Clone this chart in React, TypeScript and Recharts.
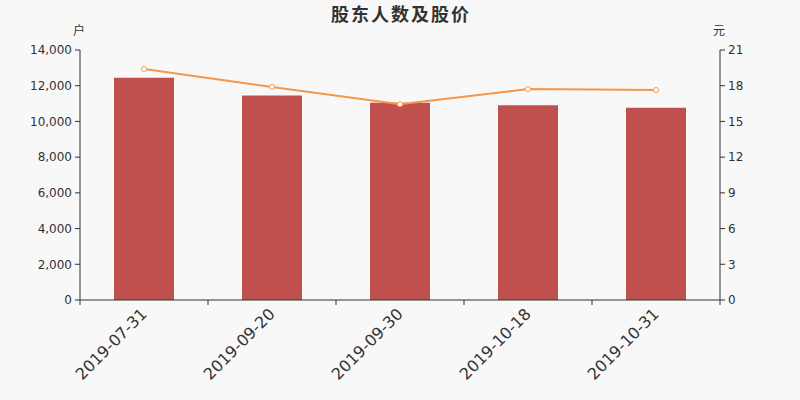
import React from 'react';
import { ComposedChart, Bar, Line, XAxis, YAxis } from 'recharts';

const dates = ['2019-07-31', '2019-09-20', '2019-09-30', '2019-10-18', '2019-10-31'];
const holders = [12450, 11450, 11050, 10900, 10770];
const prices = [19.4, 17.9, 16.44, 17.72, 17.64];
const holderTicks = [0, 2000, 4000, 6000, 8000, 10000, 12000, 14000];
const priceTicks = [0, 3, 6, 9, 12, 15, 18, 21];

const chartData = dates.map((d, i) => ({ date: d, holders: holders[i], price: prices[i] }));

const axisColor = '#333';
const font = '"DejaVu Sans", sans-serif';
const cjk = '"Noto Sans CJK SC", sans-serif';

const DateTick = (props: any) => {
  const { x, y, payload, index, visibleTicksCount } = props;
  const half = payload && payload.offset ? payload.offset : 64;
  const isLast = index === visibleTicksCount - 1;
  return (
    <g>
      <line x1={x - half} y1={y - 8} x2={x - half} y2={y - 3} stroke={axisColor} />
      {isLast && <line x1={x + half} y1={y - 8} x2={x + half} y2={y - 3} stroke={axisColor} />}
      <text
        x={x + 4}
        y={y + 7}
        textAnchor="end"
        transform={`rotate(-45, ${x + 4}, ${y + 7})`}
        fontSize={16}
        fontFamily={font}
        fill={axisColor}
      >
        {payload.value}
      </text>
    </g>
  );
};

const App: React.FC = () => {
  return (
    <div style={{ position: 'absolute', left: 0, top: 0, width: 800, height: 400, background: '#f8f8f8' }}>
      <div
        style={{
          position: 'absolute', left: 1, top: 4, width: 800, textAlign: 'center', lineHeight: '18px',
          fontFamily: cjk, fontWeight: 'bold', fontSize: 18, letterSpacing: 2, color: '#333'
        }}
      >
        股东人数及股价
      </div>
      <div style={{ position: 'absolute', left: 73, top: 21, fontFamily: cjk, fontSize: 12, color: '#333' }}>户</div>
      <div style={{ position: 'absolute', left: 713, top: 21, fontFamily: cjk, fontSize: 12, color: '#333' }}>元</div>
      <ComposedChart
        width={800}
        height={400}
        data={chartData}
        margin={{ top: 50, right: 0, bottom: 0, left: 0 }}
      >
        <XAxis
          dataKey="date"
          height={100}
          interval={0}
          tickLine={false}
          tickSize={5}
          tickMargin={3}
          axisLine={{ stroke: axisColor }}
          tick={<DateTick />}
        />
        <YAxis
          yAxisId="left"
          width={80}
          domain={[0, 14000]}
          ticks={holderTicks}
          tickFormatter={(v: number) => v.toLocaleString('en-US')}
          tick={{ fontSize: 12, fill: axisColor, fontFamily: font }}
          tickSize={5}
          tickMargin={3}
          axisLine={{ stroke: axisColor }}
          tickLine={{ stroke: axisColor }}
        />
        <YAxis
          yAxisId="right"
          orientation="right"
          width={80}
          domain={[0, 21]}
          ticks={priceTicks}
          tick={{ fontSize: 12, fill: axisColor, fontFamily: font }}
          tickSize={5}
          tickMargin={3}
          axisLine={{ stroke: axisColor }}
          tickLine={{ stroke: axisColor }}
        />
        <Bar yAxisId="left" dataKey="holders" fill="#c0504d" barSize={60} isAnimationActive={false} />
        <Line
          yAxisId="right"
          dataKey="price"
          stroke="#f79646"
          strokeWidth={2}
          dot={{ r: 2.5, fill: '#fff', stroke: '#f79646', strokeWidth: 1 }}
          isAnimationActive={false}
        />
      </ComposedChart>
    </div>
  );
};

export default App;
